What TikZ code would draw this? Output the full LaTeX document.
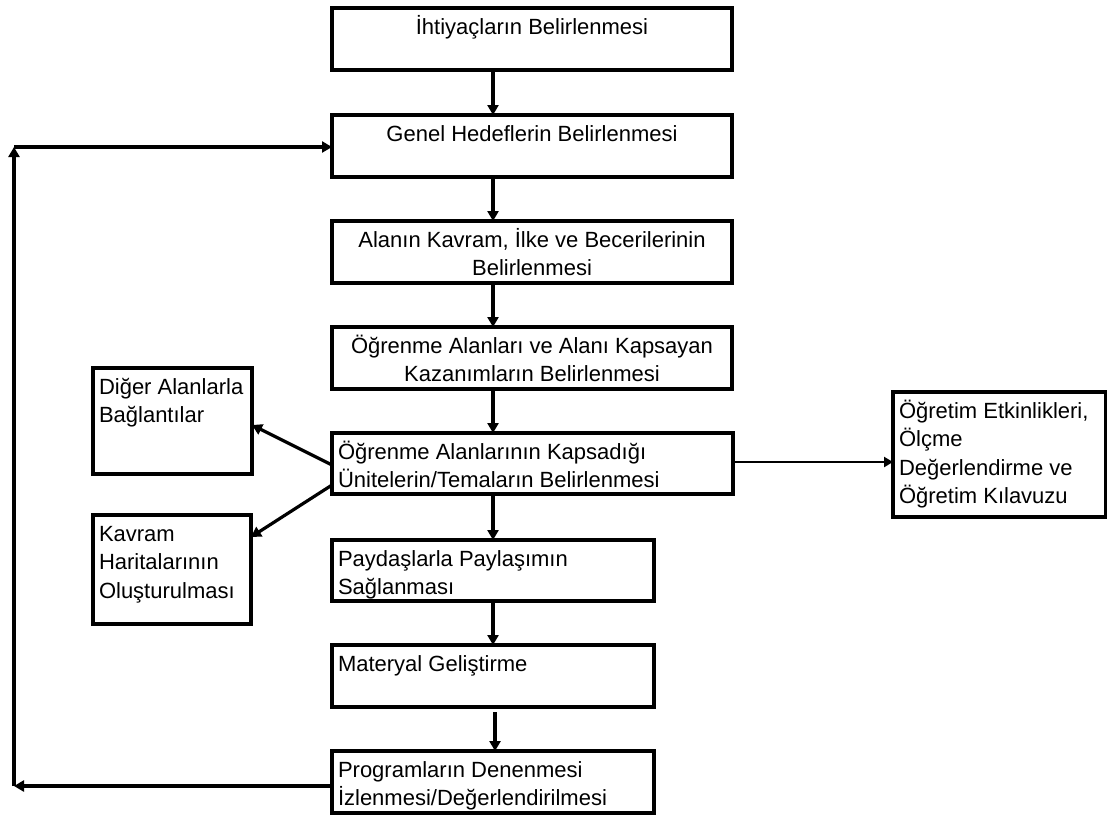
\documentclass[tikz,border=0pt]{standalone}
\usepackage{fontspec}
\setmainfont{Liberation Sans}
\usetikzlibrary{arrows.meta}

% text set from the top of a box: centred or flush left
\newcommand{\flowtextc}[3]{\parbox[c][#2][t]{#1}{\centering\rule{0pt}{26pt}#3}}
\newcommand{\flowtextl}[3]{\parbox[c][#2][t]{#1}{\raggedright\leftskip=6pt\relax\rule{0pt}{26pt}#3}}

\begin{document}
\begin{tikzpicture}[x=1pt,y=-1pt,
  font=\fontsize{22}{28.5}\selectfont,
  box/.style={draw, line width=3.4pt, inner sep=0pt, outer sep=0pt},
  arr/.style={line width=3.2pt, -{Triangle[length=10pt,width=11pt]}},
  thinarr/.style={line width=2.4pt, -{Triangle[length=9pt,width=10pt]}}]
\useasboundingbox (0,0) rectangle (1107,814);

% main column
\node[box] (b1) at (532,39)    {\flowtextc{400pt}{62pt}{İhtiyaçların Belirlenmesi}};
\node[box] (b2) at (532,146)   {\flowtextc{400pt}{62pt}{Genel Hedeflerin Belirlenmesi}};
\node[box] (b3) at (532,252)   {\flowtextc{400pt}{62pt}{Alanın Kavram, İlke ve Becerilerinin\\Belirlenmesi}};
\node[box] (b4) at (532,358)   {\flowtextc{400pt}{62pt}{Öğrenme Alanları ve Alanı Kapsayan\\Kazanımların Belirlenmesi}};
\node[box] (b5) at (532.5,463.5) {\flowtextl{401pt}{61pt}{Öğrenme Alanlarının Kapsadığı\\Ünitelerin/Temaların Belirlenmesi}};
\node[box] (b6) at (493,570.5) {\flowtextl{322pt}{61pt}{Paydaşlarla Paylaşımın\\Sağlanması}};
\node[box] (b7) at (493,676)   {\flowtextl{322pt}{62pt}{Materyal Geliştirme}};
\node[box] (b8) at (493,782)   {\flowtextl{322pt}{62pt}{Programların Denenmesi\\İzlenmesi/Değerlendirilmesi}};

% side boxes
\node[box] (d) at (172.5,421)  {\flowtextl{159pt}{106pt}{Diğer Alanlarla\\Bağlantılar}};
\node[box] (k) at (172,569.5)  {\flowtextl{158pt}{109pt}{Kavram\\Haritalarının\\Oluşturulması}};
\node[box] (r) at (999.5,454.5) {\flowtextl{213pt}{125pt}{Öğretim Etkinlikleri,\\Ölçme\\Değerlendirme ve\\Öğretim Kılavuzu}};

% flow down the column
\draw[arr] (b1.south -| b6.north) -- (b2.north -| b6.north);
\draw[arr] (b2.south -| b6.north) -- (b3.north -| b6.north);
\draw[arr] (b3.south -| b6.north) -- (b4.north -| b6.north);
\draw[arr] (b4.south -| b6.north) -- (b5.north -| b6.north);
\draw[arr] (b5.south -| b6.north) -- (b6.north);
\draw[arr] (b6.south) -- (b7.north);
\draw[arr] ([xshift=2pt,yshift=-5pt]b7.south) -- ([xshift=2pt]b8.north);

% branches from the units box
\draw[arr] ([yshift=-1.5pt]b5.west) -- ([yshift=-4pt]d.east);
\draw[arr] ([yshift=-21.5pt]b5.west) -- ([yshift=-22pt]k.north east);
\draw[thinarr] ([yshift=1.5pt]b5.east) -- ([yshift=1.5pt]b5.east -| r.west);

% feedback loop back to the general goals
\coordinate (fbB) at (14,786);
\coordinate (fbT) at (14,147);
\draw[arr] (b8.west |- fbB) -- (fbB);
\draw[arr] (fbB) -- (fbT);
\draw[arr] (fbT) -- (fbT -| b2.west);
\end{tikzpicture}
\end{document}
